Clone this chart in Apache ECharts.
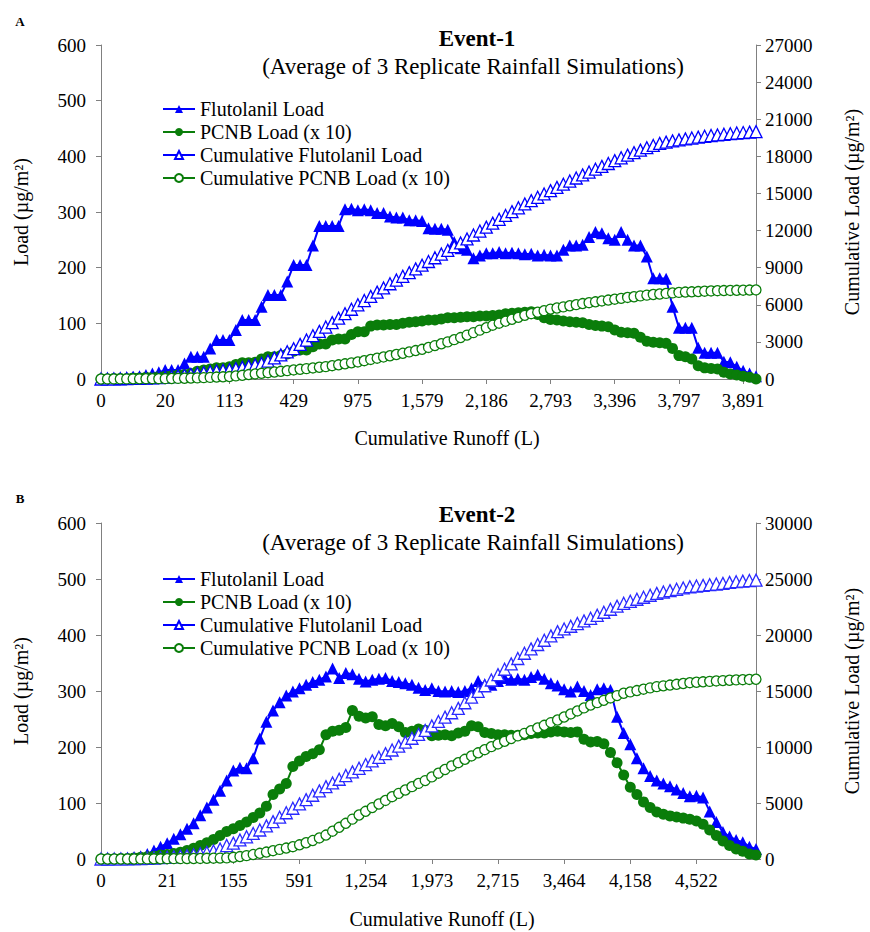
<!DOCTYPE html>
<html>
<head>
<meta charset="utf-8">
<script src="https://cdn.jsdelivr.net/npm/echarts@6/dist/echarts.min.js"></script>
<style>
html,body{margin:0;padding:0;background:#fff;}
#chart{width:870px;height:932px;}
</style>
</head>
<body>
<div id="chart"></div>
<script>
// ---------- Panel A (Event-1) ----------
var xTicksA = ['0','20','113','429','975','1,579','2,186','2,793','3,396','3,797','3,891'];
var flutA = [0,1,1,2,3,4,5,7,10,12,
16,16,16,28,40,40,40,55,70,70,
70,88,106,106,106,130,151,151,151,175,
205,205,205,240,275,275,275,275,305,306,
303,305,303,298,298,292,290,290,285,285,
284,271,270,270,268,246,235,232,217,222,
226,226,228,226,227,226,224,225,222,223,
222,222,232,240,240,241,255,264,262,253,
250,264,250,240,240,220,181,181,180,130,
92,92,92,56,47,47,47,31,30,22,
15,10,5];
var pcnbA = [0,0,1,1,1,2,2,3,3,4,
5,6,7,8,10,14,16,18,20,20,
22,26,29,29,30,36,40,40,42,45,
50,52,52,58,63,63,70,72,72,80,
85,85,95,97,97,98,98,100,102,103,
104,106,106,108,110,110,111,112,112,113,
113,114,115,117,118,119,120,121,116,110,
107,106,104,103,102,101,98,96,95,94,
88,84,83,82,75,68,66,65,64,55,
42,40,36,24,20,19,18,12,9,7,
5,3,0];
var cumFlutA = [0,5,10,20,30,45,60,80,100,120,
150,190,240,300,370,440,510,580,650,700,
750,840,940,1040,1140,1250,1450,1700,1950,2200,
2450,2800,3150,3500,3850,4200,4560,4920,5280,5640,
6000,6340,6680,7020,7360,7700,8000,8300,8600,8900,
9200,9500,9800,10100,10400,10700,11000,11320,11640,11960,
12280,12600,12910,13220,13530,13840,14150,14420,14690,14960,
15230,15490,15750,16000,16250,16500,16730,16960,17190,17420,
17650,17880,18100,18300,18500,18700,18880,19050,19150,19250,
19330,19410,19480,19550,19620,19680,19730,19780,19830,19880,
19920,19960,20000];
var cumPcnbA = [0,2,4,7,10,14,18,22,26,28,
30,40,50,62,75,90,110,130,155,180,
200,250,300,360,410,460,510,565,620,675,
730,785,840,895,950,1000,1075,1150,1230,1305,
1380,1480,1580,1680,1780,1880,1980,2080,2190,2300,
2400,2550,2700,2850,3000,3180,3350,3550,3750,3950,
4150,4350,4510,4670,4830,4990,5150,5280,5400,5520,
5650,5740,5830,5920,6010,6100,6170,6240,6310,6380,
6450,6520,6590,6650,6720,6780,6830,6870,6920,6960,
7000,7030,7050,7070,7100,7120,7140,7150,7160,7170,
7180,7190,7200];

// ---------- Panel B (Event-2) ----------
var xTicksB = ['0','21','155','591','1,254','1,973','2,715','3,464','4,158','4,522'];
var flutB = [0,0,1,1,2,3,5,9,15,22,
28,36,44,54,64,78,92,106,122,140,
158,163,162,180,215,245,265,280,292,299,
305,311,316,320,326,340,323,332,330,322,
317,320,322,323,318,316,314,311,306,302,
305,300,299,300,298,300,305,318,312,311,
318,323,320,322,320,325,329,322,314,310,
303,299,308,300,293,303,305,302,254,225,
205,180,162,148,140,135,130,124,118,112,
113,110,85,66,48,40,34,30,22,18];
var pcnbB = [0,0,0,1,1,2,3,4,5,7,
8,10,12,15,19,24,29,35,42,49,
54,60,66,74,82,94,115,125,135,165,
175,183,188,195,222,228,230,235,265,255,
252,254,240,238,242,236,226,228,232,230,
220,221,222,220,225,228,238,236,226,224,
222,222,221,221,222,224,225,225,227,228,
227,226,227,214,209,210,206,190,172,150,
128,115,102,92,84,80,77,75,73,71,
68,62,52,42,32,24,18,14,9,7];
var cumFlutB = [0,0,5,10,15,25,40,60,85,115,
150,190,240,300,380,470,580,720,900,1200,
1420,1700,1980,2280,2590,2960,3340,3730,4130,4530,
4920,5300,5690,6080,6460,6790,7120,7450,7780,8100,
8430,8760,9080,9410,9730,10080,10430,10780,11130,11480,
11880,12280,12670,13060,13450,13950,14450,14960,15470,15980,
16460,16940,17420,17900,18370,18760,19150,19530,19920,20300,
20540,20780,21020,21260,21490,21760,22030,22300,22570,22830,
23010,23190,23370,23550,23720,23840,23960,24080,24200,24310,
24370,24430,24490,24550,24610,24700,24760,24810,24860,24900];
var cumPcnbB = [0,0,0,0,0,0,5,10,15,20,
25,30,35,40,45,50,60,70,80,100,
150,220,300,400,510,620,740,860,980,1100,
1270,1450,1650,1880,2140,2480,2830,3190,3560,3930,
4260,4590,4910,5230,5560,5860,6160,6460,6750,7000,
7330,7660,7990,8310,8600,8900,9200,9480,9760,10030,
10270,10510,10750,10990,11220,11460,11700,11940,12180,12410,
12680,12950,13220,13490,13750,13960,14170,14380,14590,14800,
14920,15040,15160,15280,15390,15460,15530,15600,15670,15740,
15780,15820,15860,15900,15930,15960,15990,16010,16030,16050];

var BLUE = '#0000ff';
var BLUE2 = '#2a2aff';
var GREEN = '#0a7d0a';
var FONT = 'Liberation Serif, Times New Roman, serif';
var AXIS_GREY = '#808080';

function cats(ticks, n) {
  var out = [];
  for (var i = 0; i < n; i++) out.push(i % 10 === 0 && ticks[i / 10] !== undefined ? ticks[i / 10] : '');
  return out;
}
var catsA = cats(xTicksA, flutA.length);
var catsB = cats(xTicksB, flutB.length);

function xAxis(gi, data) {
  return {
    type: 'category', gridIndex: gi, data: data, boundaryGap: false,
    axisLine: { lineStyle: { color: AXIS_GREY, width: 1 } },
    axisTick: { interval: 9, length: 5, lineStyle: { color: AXIS_GREY } },
    axisLabel: { interval: 9, margin: 12, color: '#000', fontFamily: FONT, fontSize: 19 },
    splitLine: { show: false }
  };
}
function yAxis(gi, pos, max, interval, name, gap) {
  return {
    type: 'value', gridIndex: gi, position: pos, min: 0, max: max, interval: interval,
    name: name, nameLocation: 'middle', nameGap: gap, nameRotate: 90,
    nameTextStyle: { color: '#000', fontFamily: FONT, fontSize: 20 },
    axisLine: { show: true, lineStyle: { color: AXIS_GREY, width: 1 } },
    axisTick: { show: true, length: 5, lineStyle: { color: AXIS_GREY } },
    axisLabel: { margin: pos === 'left' ? 15 : 9, color: '#000', fontFamily: FONT, fontSize: 19,
      formatter: function (v) { return String(v); } },
    splitLine: { show: false }
  };
}
function seriesSet(xi, yl, yr, flut, pcnb, cumF, cumP, cumBlue) {
  return [
    { name: 'Flutolanil Load', type: 'line', xAxisIndex: xi, yAxisIndex: yl, data: flut,
      symbol: 'triangle', symbolSize: 12, lineStyle: { color: BLUE, width: 2 },
      itemStyle: { color: BLUE } },
    { name: 'PCNB Load (x 10)', type: 'line', xAxisIndex: xi, yAxisIndex: yl, data: pcnb,
      symbol: 'circle', symbolSize: 11, lineStyle: { color: GREEN, width: 2 },
      itemStyle: { color: GREEN } },
    { name: 'Cumulative Flutolanil Load', type: 'line', xAxisIndex: xi, yAxisIndex: yr, data: cumF,
      symbol: 'triangle', symbolSize: 12, lineStyle: { color: cumBlue, width: 1.5 },
      itemStyle: { color: '#ffffff', borderColor: cumBlue, borderWidth: 1.3 } },
    { name: 'Cumulative PCNB Load (x 10)', type: 'line', xAxisIndex: xi, yAxisIndex: yr, data: cumP,
      symbol: 'circle', symbolSize: 10, lineStyle: { color: GREEN, width: 1.5 },
      itemStyle: { color: '#ffffff', borderColor: GREEN, borderWidth: 1.3 } }
  ].map(function (s) { s.showAllSymbol = true; s.animation = false; return s; });
}
function legend(top) {
  return {
    orient: 'vertical', left: 157, top: top, itemWidth: 32, itemHeight: 10, itemGap: 3,
    textStyle: { color: '#000', fontFamily: FONT, fontSize: 20, lineHeight: 20 },
    data: ['Flutolanil Load', 'PCNB Load (x 10)', 'Cumulative Flutolanil Load', 'Cumulative PCNB Load (x 10)']
  };
}
function txt(x, y, s, font) {
  return { type: 'text', x: x, y: y, style: { text: s, font: font, fill: '#000', align: 'center', verticalAlign: 'middle' } };
}

var chart = echarts.init(document.getElementById('chart'), null, { renderer: 'svg' });
chart.setOption({
  animation: false,
  backgroundColor: '#fff',
  grid: [
    { left: 101, right: 110, top: 45, height: 334 },
    { left: 101, right: 110, top: 523, height: 336 }
  ],
  xAxis: [xAxis(0, catsA), xAxis(1, catsB)],
  yAxis: [
    yAxis(0, 'left', 600, 100, 'Load (\u00b5g/m\u00b2)', 70),
    yAxis(0, 'right', 27000, 3000, 'Cumulative Load (\u00b5g/m\u00b2)', 86),
    yAxis(1, 'left', 600, 100, 'Load (\u00b5g/m\u00b2)', 70),
    yAxis(1, 'right', 30000, 5000, 'Cumulative Load (\u00b5g/m\u00b2)', 86)
  ],
  legend: [legend(94), legend(564)],
  series: [].concat(
    seriesSet(0, 0, 1, flutA, pcnbA, cumFlutA, cumPcnbA, BLUE),
    seriesSet(1, 2, 3, flutB, pcnbB, cumFlutB, cumPcnbB, BLUE2)
  ),
  graphic: [
    txt(20, 21, 'A', 'bold 13px ' + FONT),
    txt(20, 498, 'B', 'bold 13px ' + FONT),
    txt(477, 38, 'Event-1', 'bold 23px ' + FONT),
    txt(473, 66, '(Average of 3 Replicate Rainfall Simulations)', '23px ' + FONT),
    txt(477, 514, 'Event-2', 'bold 23px ' + FONT),
    txt(473, 542, '(Average of 3 Replicate Rainfall Simulations)', '23px ' + FONT),
    txt(447, 438, 'Cumulative Runoff (L)', '20px ' + FONT),
    txt(442, 919, 'Cumulative Runoff (L)', '20px ' + FONT)
  ]
});
</script>
</body>
</html>
